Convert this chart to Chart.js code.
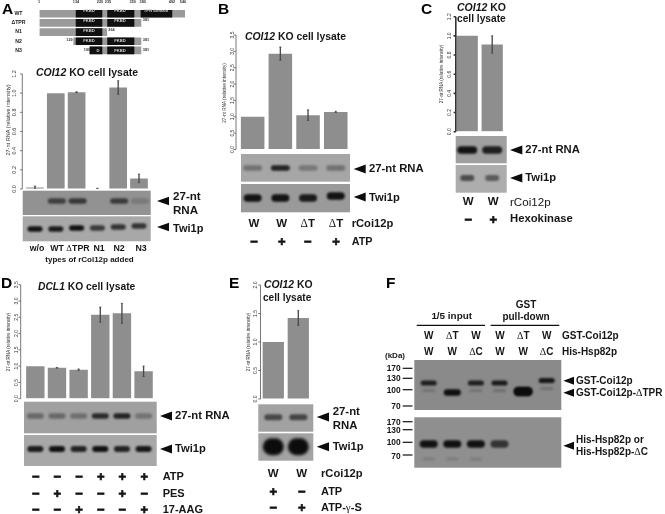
<!DOCTYPE html>
<html><head><meta charset="utf-8">
<script src="https://cdn.jsdelivr.net/npm/chart.js@4"></script>
<style>
html,body{margin:0;padding:0;background:#fff;width:665px;height:514px;overflow:hidden}
canvas{position:absolute;left:0;top:0;filter:blur(.3px)}
#t{position:absolute;left:0;top:0;width:665px;height:514px;z-index:10;font-family:"Liberation Sans",Arial,sans-serif;color:#161616}
#t span{position:absolute;white-space:nowrap;line-height:1}
#t i{font-style:italic}
.d{font-family:"Liberation Serif",serif;font-weight:400}
</style></head><body>
<div id="t"></div>
<script>
// ---------- Panel A ----------
const aLabels=["w/o","WT","ΔTPR","N1","N2","N3"];
const aValues=[0.015,1.0,1.01,0.005,1.06,0.11];
const aErrors=[0.015,0,0.005,0.003,0.07,0.045];
const aRna=[0,0.62,0.68,0,0.66,0.18];
const aTwi=[0.95,0.9,0.97,0.7,0.75,0.75];
// ---------- Domain diagram ----------
const domRows=["WT","ΔTPR","N1","N2","N3"];
const domFull=[[1,546],[1,381],[1,253],[129,381],[190,381]];
const domFkbd1=[[138,235],[138,235],[138,235],[138,235],[190,235]];
const domFkbd2=[[256,355],[256,355],null,[256,355],[256,355]];
const domTpr=[[381,497],null,null,null,null];
// ---------- Panel B ----------
const bLabels=["W","W","ΔT","ΔT"];
const bValues=[1.0,2.93,1.05,1.15];
const bErrors=[0,0.2,0.16,0.02];
const bRna=[0.33,0.85,0.3,0.34];
const bTwi=[0.95,0.95,0.9,0.95];
// ---------- Panel C ----------
const cLabels=["W","W"];
const cValues=[1.0,0.91];
const cErrors=[0,0.09];
const cRna=[0.95,0.88];
const cTwi=[0.6,0.5];
// ---------- Panel D ----------
const dLabels=["1","2","3","4","5","6"];
const dValues=[1.0,0.95,0.89,2.58,2.62,0.84];
const dErrors=[0,0.01,0.02,0.23,0.31,0.16];
const dRna=[0.38,0.38,0.33,0.8,0.85,0.3];
const dTwi=[0.9,0.97,0.85,0.97,0.85,0.92];
const dAtp=["−","−","−","+","+","+"];
const dPes=["−","+","−","−","+","−"];
const dAag=["−","−","+","−","−","+"];
// ---------- Panel E ----------
const eLabels=["W","W"];
const eValues=[1.0,1.42];
const eErrors=[0,0.13];
const eRna=[0.6,0.62];
const eTwi=[1,1];
// ---------- Panel F ----------
const fLanes=["1","2","3","4","5","6"];
const fGst=["W","ΔT","W","W","ΔT","W"];
const fHis=["W","W","ΔC","W","W","ΔC"];
const fUpper=[0.85,0,0.85,0.9,0,0.92];
const fFaint=[0.18,0,0.18,0.22,0,0.2];
const fDelta=[0,0.98,0,0,1,0];
const fHsp=[0.95,0.97,0.95,0.7,0,0];
const fHspFaint=[0.14,0.14,0.14,0,0,0];
const fMw=["170","130","100","70","170","130","100","70"];
const BAR="#8e8e8e";

const box=document.getElementById("t");
function T(x,y,h,o={}){const s=document.createElement("span");s.innerHTML=h;
 const a=o.a||"l",r=o.r?` rotate(${o.r}deg)`:"";
 s.style.left=x+"px";s.style.top=y+"px";s.style.fontSize=(o.s||10)+"px";s.style.fontWeight=o.w||700;
 if(o.c)s.style.color=o.c;
 if(o.k)s.style.webkitTextStroke=o.k+"px #161616";
 s.style.transform=(a=="c"?"translate(-50%,-50%)":a=="r"?"translate(-100%,-50%)":"translateY(-50%)")+r;
 box.appendChild(s);}

const gelPlugin={id:"gel",
 beforeDatasetsDraw(ch,args,o){
  const c=ch.ctx,xs=ch.scales.x;
  (o.gels||[]).forEach(g=>{c.fillStyle=g[4];c.fillRect(g[0],g[2],g[1]-g[0],g[3]-g[2]);});
  c.save();
  (o.bands||[]).forEach(b=>{c.filter=`blur(${b.blur||1.3}px)`;
   b.v.forEach((iv,i)=>{if(!iv)return;
    const x=xs.getPixelForValue(i)+(b.dx||0),y=b.y+(b.dy?b.dy[i]:0);
    c.fillStyle=`rgba(12,12,12,${iv})`;c.beginPath();
    c.roundRect(x-b.w,y-b.h,2*b.w,2*b.h,b.h);c.fill();});});
  c.restore();
  c.fillStyle="#0c0c0c";
  (o.arrows||[]).forEach(a=>{c.beginPath();c.moveTo(a[0],a[2]);c.lineTo(a[1],a[2]-a[3]);c.lineTo(a[1],a[2]+a[3]);c.closePath();c.fill();});
  c.strokeStyle="#111";
  (o.lines||[]).forEach(l=>{c.lineWidth=l[4]||1.2;c.beginPath();c.moveTo(l[0],l[1]);c.lineTo(l[2],l[3]);c.stroke();});
 },
 afterDraw(ch,args,o){
  if(o.axisX==null)return;
  const c=ch.ctx,ys=ch.scales.y;c.save();c.strokeStyle=o.axisColor||"#555";c.lineWidth=o.axisW||.8;
  c.beginPath();c.moveTo(o.axisX,ys.top);c.lineTo(o.axisX,ys.bottom);
  ys.ticks.forEach(t=>{const p=ys.getPixelForValue(t.value);c.moveTo(o.axisX,p);c.lineTo(o.axisX-2.2,p);});
  c.stroke();c.restore();}
};
Chart.register(gelPlugin);

function mk(id){const c=document.createElement("canvas");c.id=id;c.width=665;c.height=514;c.style.width="665px";c.style.height="514px";document.body.appendChild(c);return c;}

// Diagram chart
new Chart(mk("dom"),{type:"bar",data:{labels:domRows,datasets:[
 {data:domFull,backgroundColor:"#9a9a9a",barThickness:7,grouped:false,order:2},
 {data:domFkbd1,backgroundColor:"#101010",barThickness:7,grouped:false,order:1},
 {data:domFkbd2,backgroundColor:"#101010",barThickness:7,grouped:false,order:1},
 {data:domTpr,backgroundColor:"#101010",barThickness:7,grouped:false,order:1}
]},options:{indexAxis:"y",responsive:false,animation:false,
 layout:{padding:{left:0,right:665-185,top:5,bottom:514-55}},
 plugins:{legend:{display:false},tooltip:{enabled:false}},
 scales:{x:{display:false,min:1,max:546},
  y:{afterFit(s){s.width=39.5;},border:{display:false},grid:{display:false},
   ticks:{crossAlign:"center",padding:6,color:"#222",font:{size:5.2,weight:"bold",family:"Liberation Sans"}}}}}});

function P(id,L,R,Top,Bot,labels,vals,errs,maxV,step,tickPad,tickSize,gel){
 const cv=mk(id);
 const yw=20;const hi=vals.map((v,i)=>errs[i]?v+errs[i]:null),lo=vals.map((v,i)=>errs[i]?v-errs[i]:null);
 return new Chart(cv,{data:{labels,datasets:[
  {type:"bar",data:vals,backgroundColor:BAR,categoryPercentage:.85,barPercentage:1,grouped:false,order:3},
  {type:"bar",data:vals.map((v,i)=>errs[i]?[lo[i],hi[i]]:null),backgroundColor:"#4a4a4a",barThickness:.7,grouped:false,order:2},
  {type:"line",data:hi,showLine:false,pointStyle:"line",pointRadius:1.2,borderColor:"#4a4a4a",borderWidth:.6,order:1},
  {type:"line",data:lo,showLine:false,pointStyle:"line",pointRadius:1.2,borderColor:"#4a4a4a",borderWidth:.6,order:1}
 ]},options:{responsive:false,animation:false,
  layout:{padding:{left:L-yw,right:665-R,top:Top,bottom:514-Bot}},
  plugins:{legend:{display:false},tooltip:{enabled:false},gel},
  scales:{x:{display:false},
   y:{min:0,max:maxV,afterFit(s){s.width=yw;},border:{display:false},
      grid:{drawOnChartArea:false,drawTicks:false},
      ticks:{stepSize:step,autoSkip:false,minRotation:90,maxRotation:90,crossAlign:"center",padding:tickPad,
        color:"#333",font:{size:tickSize,family:"Liberation Sans"},callback:v=>Number(v).toFixed(1)}}}}});
}

P("a",24.6,149.4,74,189,aLabels,aValues,aErrors,1.2,.2,6,5.5,{axisX:22.3,
 gels:[[22.7,150.7,190.7,215,"#929292"],[22.7,150.7,216.3,241.3,"#a8a8a8"]],
 bands:[{v:aRna,y:201,w:9,h:2.8,dx:1},{v:aTwi,y:228,w:7.5,h:2.8,dy:[1,1,0,0,-1,-2]}],
 arrows:[[157,169,201,4.2],[157,169,227,4.2]]});
P("b",238.8,349.6,35,149.5,bLabels,bValues,bErrors,3.5,.5,3,5,{axisX:236,
 gels:[[241,350,154,181.7,"#a6a6a6"],[241,350,184,212.3,"#9a9a9a"]],
 bands:[{v:bRna,y:168,w:9.5,h:2.8},{v:bTwi,y:198,w:9,h:3.8,dy:[0,0,0,-2]}],
 arrows:[[353.7,365.7,169,4.5],[353.7,365.7,197,4.5]]});
P("c",454.7,504.7,16.7,131.7,cLabels,cValues,cErrors,1.2,.2,1.5,5,{axisX:455.8,axisColor:"#333",axisW:1.6,
 gels:[[455.7,506.7,136,163.3,"#a0a0a0"],[455.7,506.7,165,192.7,"#adadad"]],
 bands:[{v:cRna,y:150,w:10,h:3.8},{v:cTwi,y:178,w:7,h:3}],
 arrows:[[510,522.3,150,4.5],[510,522.3,178,4.5]]});
P("d",24.5,154.4,284.7,398.7,dLabels,dValues,dErrors,3.5,.5,4.3,5,{axisX:20.7,
 gels:[[24,156.7,401.7,433.3,"#a0a0a0"],[24,156.7,435,466,"#a8a8a8"]],
 bands:[{v:dRna,y:416,w:8.5,h:2.8},{v:dTwi,y:449,w:8,h:3}],
 arrows:[[160,172,416,4.5],[160,172,449,4.5]]});
P("e",260.8,310.8,285,399,eLabels,eValues,eErrors,2,.5,1.3,5,{axisX:260.5,
 gels:[[258.3,313.3,404.3,431.7,"#a2a2a2"],[258.3,313.3,433.3,460.7,"#a4a4a4"]],
 bands:[{v:eRna,y:417.3,w:9,h:3},{v:eTwi,y:446.7,w:10.5,h:8.5,blur:1.8}],
 arrows:[[316.7,329,417,4.5],[316.7,329,446.7,4.5]]});

// Panel F: gel lanes placed on a category scale
new Chart(mk("f"),{type:"bar",data:{labels:fLanes,datasets:[]},options:{responsive:false,animation:false,
 layout:{padding:{left:416.9,right:665-558.5,top:360,bottom:514-468}},
 plugins:{legend:{display:false},tooltip:{enabled:false},gel:{
  gels:[[414.3,561.3,360,410,"#8a8a8a"],[414.3,561.3,417.3,467.7,"#8f8f8f"]],
  bands:[{v:fUpper,y:383,w:8,h:2.6,dy:[0,0,0,0,0,-2.5]},{v:fFaint,y:390.5,w:6.5,h:1.6,dy:[0,0,0,0,0,-2]},
   {v:fDelta,y:392.5,w:8.5,h:3.2,dy:[0,0,0,0,-1,0]},{v:fDelta.map((v,i)=>i==4?v:0),y:391.5,w:9.5,h:4.8},
   {v:fHsp,y:444,w:9,h:3.8},{v:fHspFaint,y:459,w:6,h:1.5}],
  arrows:[[563.3,574,380.7,4],[563.3,574,392.7,4],[563.3,574,445.7,4]],
  lines:[[416.7,325.3,485,325.3,1.3],[490.7,325.3,559.3,325.3,1.3],
   [402.7,368.3,412.5,368.3],[402.7,378.3,412.5,378.3],[402.7,389.7,412.5,389.7],[402.7,406,412.5,406],
   [402.7,421.7,412.5,421.7],[402.7,429.7,412.5,429.7],[402.7,442.3,412.5,442.3],[402.7,455,412.5,455]]
 }},
 scales:{x:{display:false},y:{display:false}}}});

// ---------- Text ----------
const D='<span class="d" style="position:static">Δ</span>';
const dl=s=>s.replace("Δ",D);
const SG={a:"c",s:13,k:.7};
[["A",2,9],["B",218,9],["C",421,9],["D",1,283],["E",229,283],["F",386,283]].forEach(p=>T(p[1],p[2],p[0],{s:15.5,c:"#000"}));
const tl='27-nt RNA (relative intensity)';
T(9,120,tl,{a:"c",r:-90,s:5.6,w:400,c:"#333"});
T(225,92.5,tl,{a:"c",r:-90,s:4.7,w:400,c:"#333"});
T(442.3,74,tl,{a:"c",r:-90,s:4.6,w:400,c:"#333"});
T(9,342,tl,{a:"c",r:-90,s:4.6,w:400,c:"#333"});
T(249,342,tl,{a:"c",r:-90,s:4.6,w:400,c:"#333"});
// A
[["1",39],["134",76],["220",100],["235",108],["350",132.7],["380",142.7],["492",172],["546",183]].forEach(p=>T(p[1],2.5,p[0],{a:"c",s:3.8,w:700,c:"#333"}));
[["FKBD",89,10],["FKBD",120,10],["TPR domain",156,10],["FKBD",89,20],["FKBD",120,20],["FKBD",89,30],["FKBD",89,40],["FKBD",120,40],["D",98,50],["FKBD",120,50]].forEach(p=>T(p[1],p[2]+.5,p[0],{a:"c",s:4.2,w:700,c:"#ccc"}));
[["381",146,20.5],["264",111.5,30.5],["129",69.5,40.5],["381",146,40.5],["190",87,50.5],["381",146,50.5]].forEach(p=>T(p[1],p[2],p[0],{a:"c",s:3.8,w:700,c:"#333"}));
T(87,72,"<i>COI12</i> KO cell lysate",{a:"c",s:10.5});
aLabels.forEach((l,i)=>T([37,57,78,99,119,141][i],248.3,dl(l),{a:"c",s:8.8}));
T(89.5,260,"types of rCoi12p added",{a:"c",s:8});
T(173,195.5,"27-nt",{s:11.6});T(173,209.5,"RNA",{s:11.6});T(173,228,"Twi1p",{s:11});
// B
T(245,36.7,"<i>COI12</i> KO cell lysate",{s:10.4});
T(369,169,"27-nt RNA",{s:11.3});T(369,198,"Twi1p",{s:11.2});
bLabels.forEach((l,i)=>T([254,281.7,307.7,336][i],224,dl(l),{a:"c",s:11.5}));
["−","+","−","+"].forEach((l,i)=>T([254,281.7,307.7,336][i],240.7,l,SG));
T(351.7,224,"rCoi12p",{s:11.2});T(351.7,240.7,"ATP",{s:10.8});
// C
T(457,6.7,"<i>COI12</i> KO",{s:10.5});T(457,19.3,"cell lysate",{s:10.2});
T(525.3,150,"27-nt RNA",{s:11.3});T(525.3,178,"Twi1p",{s:11.2});
T(468.3,202,"W",{a:"c",s:11.5});T(493.3,202,"W",{a:"c",s:11.5});
T(468.3,219,"−",SG);T(493.3,219,"+",SG);
T(510,202,"rCoi12p",{s:11.6,w:400});T(510,219,"Hexokinase",{s:11.3});
// D
T(38,286.7,"<i>DCL1</i> KO cell lysate",{s:10.3});
T(175,416,"27-nt RNA",{s:11.3});T(175,449,"Twi1p",{s:11.2});
const dx=[35.7,57.3,79,100.7,122.3,144.3];
[[dAtp,476.3,"ATP"],[dPes,492.7,"PES"],[dAag,509.3,"17-AAG"]].forEach(r=>{r[0].forEach((l,i)=>T(dx[i],r[1],l,SG));T(162.7,r[1],r[2],{s:11});});
// E
T(264,285,"<i>COI12</i> KO",{s:10.4});T(263,298,"cell lysate",{s:10.1});
T(332.7,411.7,"27-nt",{s:11.4});T(332.7,425.7,"RNA",{s:11.4});T(332.7,447,"Twi1p",{s:11.2});
T(273.3,474,"W",{a:"c",s:11.5});T(301.7,474,"W",{a:"c",s:11.5});
T(273.3,491,"+",SG);T(301.7,491,"−",SG);
T(273.3,507.3,"−",SG);T(301.7,507.3,"+",SG);
T(321,474,"rCoi12p",{s:11.2});T(321,491,"ATP",{s:11});
T(321,507.3,'ATP-<span class="d" style="position:static">γ</span>-S',{s:11});
// F
T(451.7,316,"1/5 input",{a:"c",s:9.9});T(526,305,"GST",{a:"c",s:10});T(526,317.3,"pull-down",{a:"c",s:10});
const fx=[428.7,452.3,476,500,523.3,546.7];
fGst.forEach((l,i)=>T(fx[i],336,dl(l),{a:"c",s:10}));
fHis.forEach((l,i)=>T(fx[i],352,dl(l),{a:"c",s:10}));
T(562,336,"GST-Coi12p",{s:10});T(562,352,"His-Hsp82p",{s:10});
T(395,356,"(kDa)",{a:"c",s:8});
[368.3,378.3,389.7,406,421.7,429.7,442.3,455.5].forEach((y,i)=>T(400.7,y,fMw[i],{a:"r",s:8.4}));
T(576,381,"GST-Coi12p",{s:10});T(576,393,'GST-Coi12p-'+D+'TPR',{s:10});
T(576,440,"His-Hsp82p or",{s:10});T(576,452.3,'His-Hsp82p-'+D+'C',{s:10});
</script>
</body></html>
